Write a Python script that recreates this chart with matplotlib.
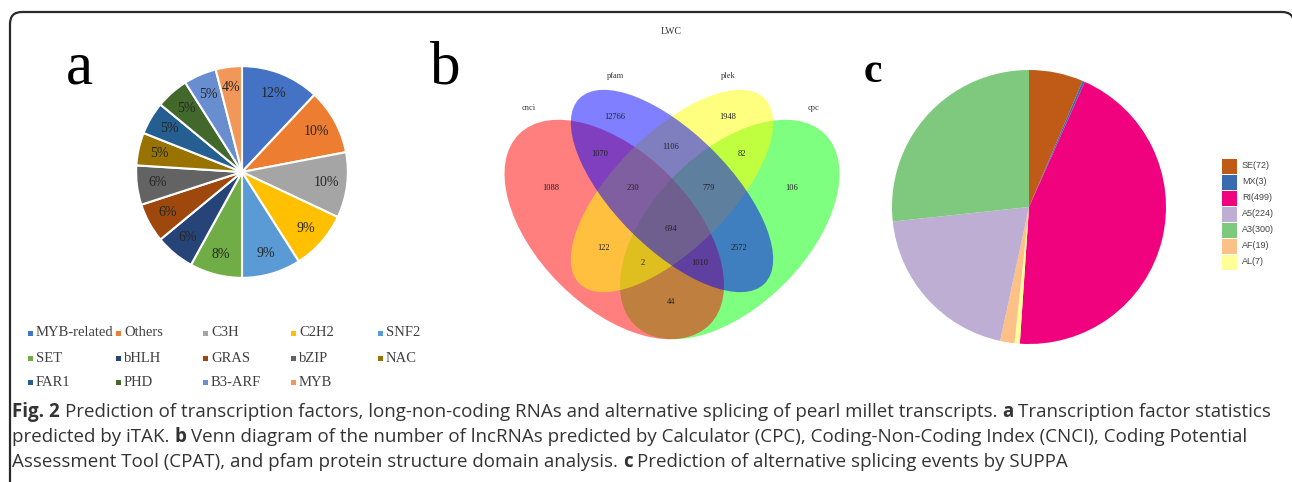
import matplotlib
matplotlib.use("Agg")
import matplotlib.pyplot as plt
from matplotlib.patches import Ellipse, Rectangle, PathPatch
from matplotlib.path import Path

# panel a: transcription factor families (percent)
tf_names = ["MYB-related", "Others", "C3H", "C2H2", "SNF2", "SET", "bHLH",
            "GRAS", "bZIP", "NAC", "FAR1", "PHD", "B3-ARF", "MYB"]
tf_pct = [12, 10, 10, 9, 9, 8, 6, 6, 6, 5, 5, 5, 5, 4]
tf_colors = ["#4472C4", "#ED7D31", "#A5A5A5", "#FFC000", "#5B9BD5", "#70AD47",
             "#264478", "#9E480E", "#636363", "#997300", "#255E91", "#43682B",
             "#698ED0", "#F1975A"]

# panel b: venn counts (LWC)
venn_sets = ["cnci", "pfam", "plek", "cpc"]
venn_counts = ["12766", "1948", "1070", "1106", "82", "1088", "230", "779",
               "106", "694", "122", "2572", "2", "1010", "44"]

# panel c: alternative splicing events
as_names = ["SE", "MX", "RI", "A5", "A3", "AF", "AL"]
as_counts = [72, 3, 499, 224, 300, 19, 7]
as_colors = ["#BF5B17", "#386CB0", "#F0027F", "#BEAED4", "#7FC97F", "#FDC086", "#FFFF99"]
as_pie_order = ["SE", "MX", "RI", "AL", "AF", "A5", "A3"]

W, H = 1292, 482
fig = plt.figure(figsize=(W / 100, H / 100), dpi=100)

def px_axes(x, y, w, h, **kw):
    # x, y = top-left corner in pixels (y down)
    return fig.add_axes([x / W, (H - y - h) / H, w / W, h / H], **kw)

bg = px_axes(0, 0, W, H)
bg.set_xlim(0, W)
bg.set_ylim(H, 0)
bg.axis("off")

# frame: left edge, top edge, rounded top corners (right edge is off the picture)
frame = Path([(10, 482), (10, 24), (10, 12), (22, 12), (1282, 12), (1294, 12), (1294, 24)],
             [Path.MOVETO, Path.LINETO, Path.CURVE3, Path.CURVE3, Path.LINETO,
              Path.CURVE3, Path.CURVE3])
bg.add_patch(PathPatch(frame, fill=False, edgecolor="#2a2a2a", lw=1.6))

serif = "Liberation Serif"

# ---- panel a
bg.text(79, 83, "a", fontsize=44, family=serif, ha="center", va="baseline")
axa = px_axes(134, 64, 216, 216)
axa.pie(tf_pct, colors=tf_colors, startangle=90, counterclock=False,
        autopct="%.0f%%", pctdistance=0.8,
        wedgeprops=dict(edgecolor="white", linewidth=1.5),
        textprops=dict(fontsize=10, family=serif, color="#262626"))
axa.set_xlim(-1.02, 1.02)
axa.set_ylim(-1.02, 1.02)
axa.set_aspect("equal")

col_x = [30, 118, 205, 293, 380]
row_y = [333, 358, 382]
for i, (name, c) in enumerate(zip(tf_names, tf_colors)):
    x = col_x[i % 5]
    y = row_y[i // 5]
    bg.add_patch(Rectangle((x - 2.5, y - 2.5), 5, 5, color=c, lw=0))
    bg.text(x + 6, y, name, fontsize=10.5, family=serif, color="#404040",
            ha="left", va="center")

# ---- panel b
bg.text(445, 83, "b", fontsize=44, family=serif, ha="center", va="baseline")
axb = px_axes(480, 20, 385, 340)
axb.set_xlim(480, 865)
axb.set_ylim(360, 20)
axb.axis("off")
s = 385.0
cx, cy = 672, 191

def vpos(u, v):
    return cx + (u - 0.5) * s, cy - (v - 0.57) * s

# drawing order green, red, yellow, blue
ell = [
    ("cpc", (0.65, 0.47), 0.35, 0.20, -45, "#00FF00"),
    ("cnci", (0.35, 0.47), 0.35, 0.20, 45, "#FF0000"),
    ("plek", (0.50, 0.57), 0.34, 0.15, -45, "#FFFF00"),
    ("pfam", (0.50, 0.57), 0.34, 0.15, 45, "#0000FF"),
]
for name, (u, v), a, b, ang, col in ell:
    axb.add_patch(Ellipse(vpos(u, v), 2 * a * s, 2 * b * s, angle=ang,
                          facecolor=col, alpha=0.5, lw=0))

count_xy = [(615, 117), (728, 117), (600, 154), (671, 147), (742, 154),
            (551, 188), (633, 188), (709, 188), (792, 188), (671, 229),
            (603, 248), (739, 248), (643, 263), (700, 263), (671, 302)]
for t, (x, y) in zip(venn_counts, count_xy):
    axb.text(x, y, t, fontsize=6, family=serif, color="#222222", ha="center", va="center")
label_xy = [(529, 108), (615, 76), (728, 76), (813, 108)]
for t, (x, y) in zip(venn_sets, label_xy):
    axb.text(x, y, t, fontsize=6, family=serif, color="#333333", ha="center", va="center")
bg.text(671, 32, "LWC", fontsize=7, family=serif, color="#333333", ha="center", va="center")

# ---- panel c
bg.text(873, 82, "c", fontsize=30, family=serif, weight="bold", ha="center", va="baseline")
axc = px_axes(892, 70, 274, 274)
cmap = dict(zip(as_names, as_colors))
vals = dict(zip(as_names, as_counts))
axc.pie([vals[n] for n in as_pie_order], colors=[cmap[n] for n in as_pie_order],
        startangle=90, counterclock=False, wedgeprops=dict(linewidth=0))
axc.set_xlim(-1, 1)
axc.set_ylim(-1, 1)
axc.set_aspect("equal")

for i, (n, v, c) in enumerate(zip(as_names, as_counts, as_colors)):
    y = 166 + 16 * i
    bg.add_patch(Rectangle((1222, y - 7.5), 15, 15, color=c, lw=0))
    bg.text(1242, y, f"{n}({v})", fontsize=6.5, family="Liberation Sans",
            color="#444444", ha="left", va="center")

# ---- caption
cap_lines = [
    [("Fig. 2", True), ("Prediction of transcription factors, long-non-coding RNAs and alternative splicing of pearl millet transcripts.", False),
     ("a", True), ("Transcription factor statistics", False)],
    [("predicted by iTAK.", False), ("b", True),
     ("Venn diagram of the number of lncRNAs predicted by Calculator (CPC), Coding-Non-Coding Index (CNCI), Coding Potential", False)],
    [("Assessment Tool (CPAT), and pfam protein structure domain analysis.", False), ("c", True),
     ("Prediction of alternative splicing events by SUPPA", False)],
]
cap_y = [417, 442, 467]
renderer = fig.canvas.get_renderer()
cap_kw = dict(fontsize=13.5, family="Open Sans", color="#333333", va="baseline", ha="left")
t1 = bg.text(0, -100, "aa", **cap_kw)
t2 = bg.text(0, -100, "a a", **cap_kw)
space_w = t2.get_window_extent(renderer).width - t1.get_window_extent(renderer).width
t1.remove()
t2.remove()
for line, y in zip(cap_lines, cap_y):
    x = 12
    for txt, bold in line:
        t = bg.text(x, y, txt, weight="bold" if bold else "normal", **cap_kw)
        x += t.get_window_extent(renderer).width + space_w

fig.savefig("out.png", dpi=100)
